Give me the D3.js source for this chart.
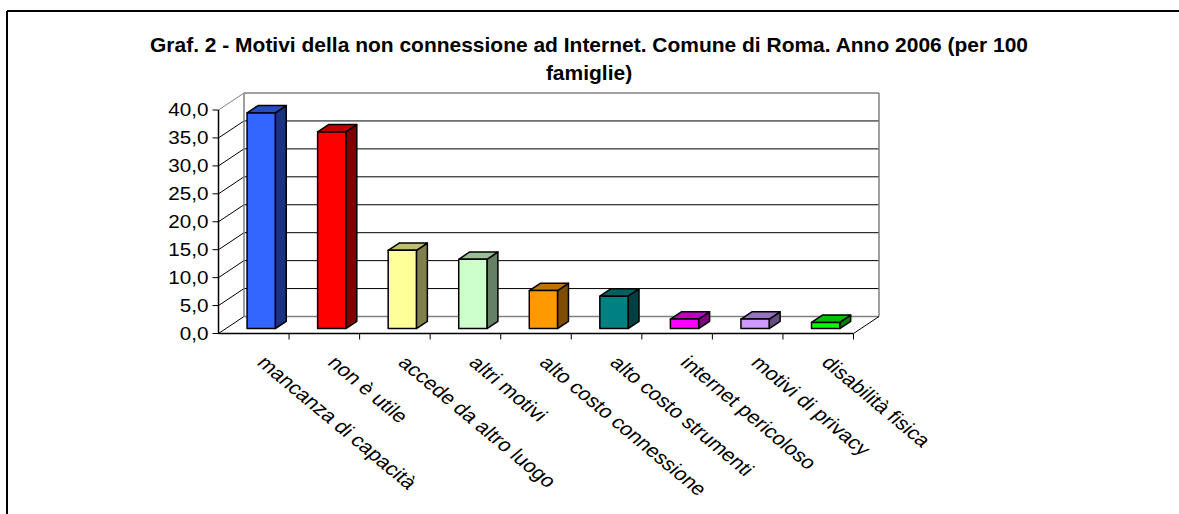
<!DOCTYPE html>
<html><head><meta charset="utf-8">
<script src="https://cdn.jsdelivr.net/npm/d3@7"></script>
<style>
html,body{margin:0;padding:0;background:#fff;}
svg{display:block;font-family:"Liberation Sans",Arial,sans-serif;}
</style></head>
<body>
<svg id="chart" width="1179" height="514"></svg>
<script>
const categories = ["mancanza di capacità","non è utile","accede da altro luogo","altri motivi","alto costo connessione","alto costo strumenti","internet pericoloso","motivi di privacy","disabilità fisica"];
const values = [38.6, 35.2, 14.0, 12.4, 6.8, 5.8, 1.7, 1.7, 1.1];
const frontColors = ["#3366FF","#FF0000","#FFFF99","#CCFFCC","#FF9900","#008080","#FF00FF","#CC99FF","#00FF00"];
const yTicks = [0,5,10,15,20,25,30,35,40];
const titleLines = ["Graf. 2 - Motivi della non connessione ad Internet. Comune di Roma. Anno 2006 (per 100","famiglie)"];

const svg = d3.select("#chart");
const SX = 1.2; // horizontal stretch of the original raster
const depthX = 25.5, depthY = -17;
const f1 = 0.29, f2 = 0.72;

const x = d3.scaleBand().domain(categories).range([218.5, 853.5]).paddingInner(0).paddingOuter(0);
const y = d3.scaleLinear().domain([0, 40]).range([333.5, 110]);

// frame
svg.append("line").attr("x1",7).attr("y1",11).attr("x2",1179).attr("y2",11).attr("stroke","#000").attr("stroke-width",2);
svg.append("line").attr("x1",7).attr("y1",11).attr("x2",7).attr("y2",514).attr("stroke","#000").attr("stroke-width",2);

// title
const tg = svg.append("g");
const t1 = tg.append("text").attr("x",0).attr("y",0).attr("font-weight","bold").attr("font-size",19.5).attr("text-anchor","middle").text(titleLines[0]);
const len = t1.node().getComputedTextLength();
const tsx = 878 / len;
t1.attr("transform",`translate(589,52) scale(${tsx},1)`);
tg.append("text").attr("font-weight","bold").attr("font-size",19.5).attr("text-anchor","middle")
  .attr("transform",`translate(589,80) scale(${tsx},1)`).text(titleLines[1]);

const [xL, xR] = x.range();
const grid = svg.append("g");
yTicks.forEach(t => {
  grid.append("line").attr("x1",xL).attr("y1",y(t)).attr("x2",xL+depthX).attr("y2",y(t)+depthY)
    .attr("stroke", (t===40)?"#808080":"#000").attr("stroke-width",1);
  if (t>0 && t<40) {
    grid.append("line").attr("x1",xL+depthX).attr("y1",y(t)+depthY).attr("x2",xR+depthX).attr("y2",y(t)+depthY)
      .attr("stroke","#000").attr("stroke-width",1);
  }
});
const wallStroke = "#808080";
grid.append("line").attr("x1",xL+depthX).attr("y1",y(40)+depthY).attr("x2",xR+depthX).attr("y2",y(40)+depthY).attr("stroke",wallStroke).attr("stroke-width",1.5);
grid.append("line").attr("x1",xL+depthX).attr("y1",y(40)+depthY).attr("x2",xL+depthX).attr("y2",y(0)+depthY).attr("stroke",wallStroke).attr("stroke-width",1.5);
grid.append("line").attr("x1",xR+depthX).attr("y1",y(40)+depthY).attr("x2",xR+depthX).attr("y2",y(0)+depthY).attr("stroke",wallStroke).attr("stroke-width",1.5);
grid.append("line").attr("x1",xL+depthX).attr("y1",y(0)+depthY).attr("x2",xR+depthX).attr("y2",y(0)+depthY).attr("stroke",wallStroke).attr("stroke-width",1.5);
grid.append("line").attr("x1",xR).attr("y1",y(0)).attr("x2",xR+depthX).attr("y2",y(0)+depthY).attr("stroke","#000").attr("stroke-width",1);

function shade(c, k){ const r = d3.rgb(c); return d3.rgb(r.r*k, r.g*k, r.b*k).formatHex(); }
const bw = x.bandwidth()*0.4;
const ddx = (f2-f1)*depthX, ddy = (f2-f1)*depthY;
const bars = svg.append("g").attr("stroke","#000").attr("stroke-width",1.5).attr("stroke-linejoin","round");
categories.forEach((c,i) => {
  const L = x(c) + x.bandwidth()/2 - bw/2 + f1*depthX;
  const T = y(values[i]) + f1*depthY;
  const B = y(0) + f1*depthY;
  const col = frontColors[i];
  bars.append("polygon").attr("points",[[L+bw,T],[L+bw+ddx,T+ddy],[L+bw+ddx,B+ddy],[L+bw,B]].join(" ")).attr("fill",shade(col,0.5));
  bars.append("polygon").attr("points",[[L,T],[L+bw,T],[L+bw+ddx,T+ddy],[L+ddx,T+ddy]].join(" ")).attr("fill",shade(col,0.75));
  bars.append("rect").attr("x",L).attr("y",T).attr("width",bw).attr("height",B-T).attr("fill",col);
});

const ax = svg.append("g");
ax.append("line").attr("x1",xL).attr("y1",y(0)).attr("x2",xR).attr("y2",y(0)).attr("stroke","#000").attr("stroke-width",1.5);
ax.append("line").attr("x1",xL).attr("y1",y(0)).attr("x2",xL).attr("y2",y(40)).attr("stroke","#000").attr("stroke-width",1.5);
categories.forEach((c,i) => {
  const bx = x(c) + x.bandwidth();
  ax.append("line").attr("x1",bx).attr("y1",y(0)).attr("x2",bx).attr("y2",y(0)+6).attr("stroke","#000").attr("stroke-width",1);
});
yTicks.forEach(t => {
  ax.append("line").attr("x1",xL-6).attr("y1",y(t)).attr("x2",xL).attr("y2",y(t)).attr("stroke","#000").attr("stroke-width",1);
  ax.append("text").attr("text-anchor","end").attr("font-size",17.5).attr("dy","0.36em")
    .attr("transform",`translate(${xL-10},${y(t)}) scale(1.18,1)`)
    .text(d3.format(".1f")(t).replace(".",","));
});
categories.forEach(c => {
  const cx = x(c) + x.bandwidth()/2 + 14;
  ax.append("text").attr("font-size",18.5).attr("dy","0.75em")
    .attr("transform",`translate(${cx},354) scale(${SX},1) rotate(45)`)
    .text(c);
});
</script>
</body></html>
